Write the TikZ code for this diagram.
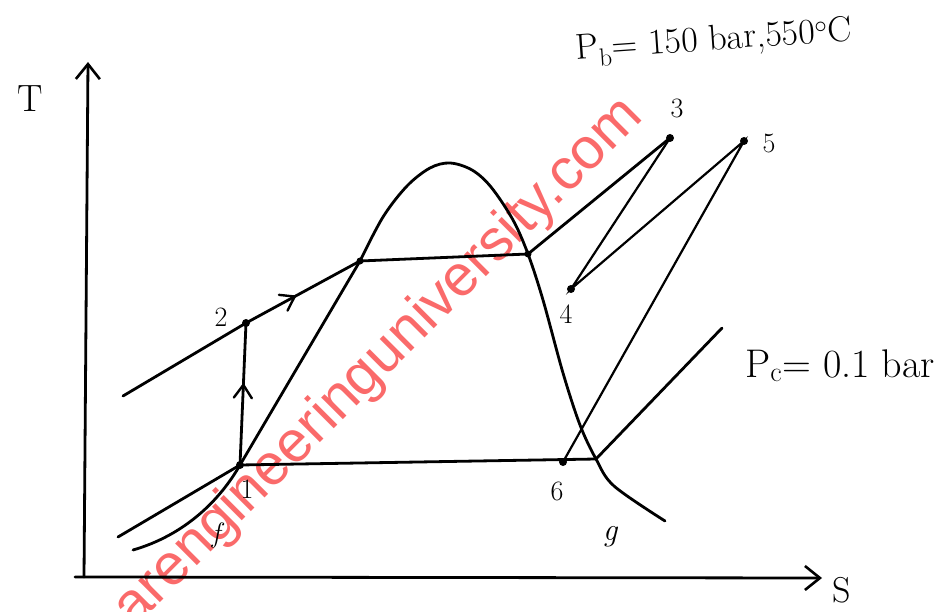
\documentclass[tikz,border=0pt]{standalone}
\usepackage{fontspec}
\newfontfamily\wmfont{Liberation Sans}
\usetikzlibrary{arrows.meta,decorations.markings}
\definecolor{wmred}{RGB}{250,80,80}
\tikzset{
  curve/.style={line width=2.8pt, line cap=round, line join=round},
  thin curve/.style={line width=2.2pt, line cap=round},
  pt/.style={circle, fill=black, inner sep=0pt, minimum size=8pt},
  lab/.style={font=\fontsize{28}{30}\selectfont, inner sep=0pt},
  chev/.style={-{Straight Barb[length=15pt,width=24pt,line width=2.6pt]}},
  midarrow/.style={postaction={decorate}, decoration={markings, mark=at position #1 with {\draw[line width=2.4pt, line cap=round] (-11pt,-9pt) -- (2pt,0pt) -- (-11pt,9pt);}}}
}
\begin{document}
\begin{tikzpicture}[x=1pt,y=-1pt]
\useasboundingbox (0,0) rectangle (949,612);
\fill[white] (0,0) rectangle (949,612);
% watermark
\begin{scope}
\clip (0,0) rectangle (949,612);
\node[wmred, opacity=0.85, rotate=45, anchor=base east, inner sep=0pt, font=\wmfont\fontsize{58}{58}\selectfont] (wm) at (645,118) {arengineeringuniversity.com};
\end{scope}
% axes
\coordinate (o) at (84,577);
\coordinate (ty) at (88,62);
\coordinate (sx) at (822,578);
\coordinate (sxo) at (75,577);
\draw[curve, chev] (o) -- (ty);
\draw[curve, chev] (sxo) -- (sx);
\node[lab, font=\fontsize{38}{40}\selectfont] (Tl) at (30,99) {T};
\node[lab, font=\fontsize{36}{36}\selectfont] (Sl) at (842,590) {S};
% points
\node[pt] (p1) at (240,465) {};
\node[pt] (p2) at (246,323) {};
\node[pt] (p3) at (670,138) {};
\node[pt] (p4) at (571,289) {};
\node[pt] (p5) at (744,141) {};
\node[pt] (p6) at (563,462) {};
\node[pt, minimum size=7pt] (a) at (360,261) {};
\node[pt, minimum size=7pt] (b) at (528,254) {};
\coordinate (c) at (596,459);
\coordinate (f) at (133,550);
\coordinate (g) at (665,521);
\coordinate (hp0) at (123,396);
\coordinate (lp0) at (118,537);
\coordinate (pc) at (722,328);
% saturation dome
\draw[curve] (f) .. controls (185,535) and (220,500) .. (p1.center) -- (a.center);
\draw[curve] plot[smooth, tension=0.55] coordinates {(360,261) (383,217) (407,186) (430,168) (450,163) (472,170) (491,187) (513,220) (528,254) (543,300) (563,373) (580,425) (596,459) (614,486) (665,521)};
% high pressure line
\draw[curve, midarrow=0.72] (hp0) -- (p2.center) -- (a.center);
\draw[curve] (a.center) -- (b.center) -- (p3.center);
% pump 1-2
\draw[curve, midarrow=0.55] (p1.center) -- (p2.center);
% turbines
\draw[thin curve] (p3.center) -- (p4.center) -- (p5.center) -- (p6.center);
% condenser line
\draw[curve] (lp0) -- (p1.center) -- (c) -- (pc);
% labels
\node[lab] (l1) at (247,489) {1};
\node[lab] (l2) at (221,317) {2};
\node[lab] (l3) at (677,108) {3};
\node[lab] (l4) at (566,314) {4};
\node[lab] (l5) at (769,143) {5};
\node[lab] (l6) at (557,491) {6};
\node[lab, font=\itshape\fontsize{28}{30}\selectfont] (lf) at (216,535) {f};
\node[lab, font=\itshape\fontsize{32}{30}\selectfont] (lg) at (610,537) {g};
\node[lab, rotate=4, font=\fontsize{36}{38}\selectfont] (pb) at (714,42) {P\textsubscript{b}= 150 bar,550\textsuperscript{$\circ$}C};
\node[lab, font=\fontsize{40}{42}\selectfont] (pcl) at (840,366) {P\textsubscript{c}= 0.1 bar};
\end{tikzpicture}
\end{document}
